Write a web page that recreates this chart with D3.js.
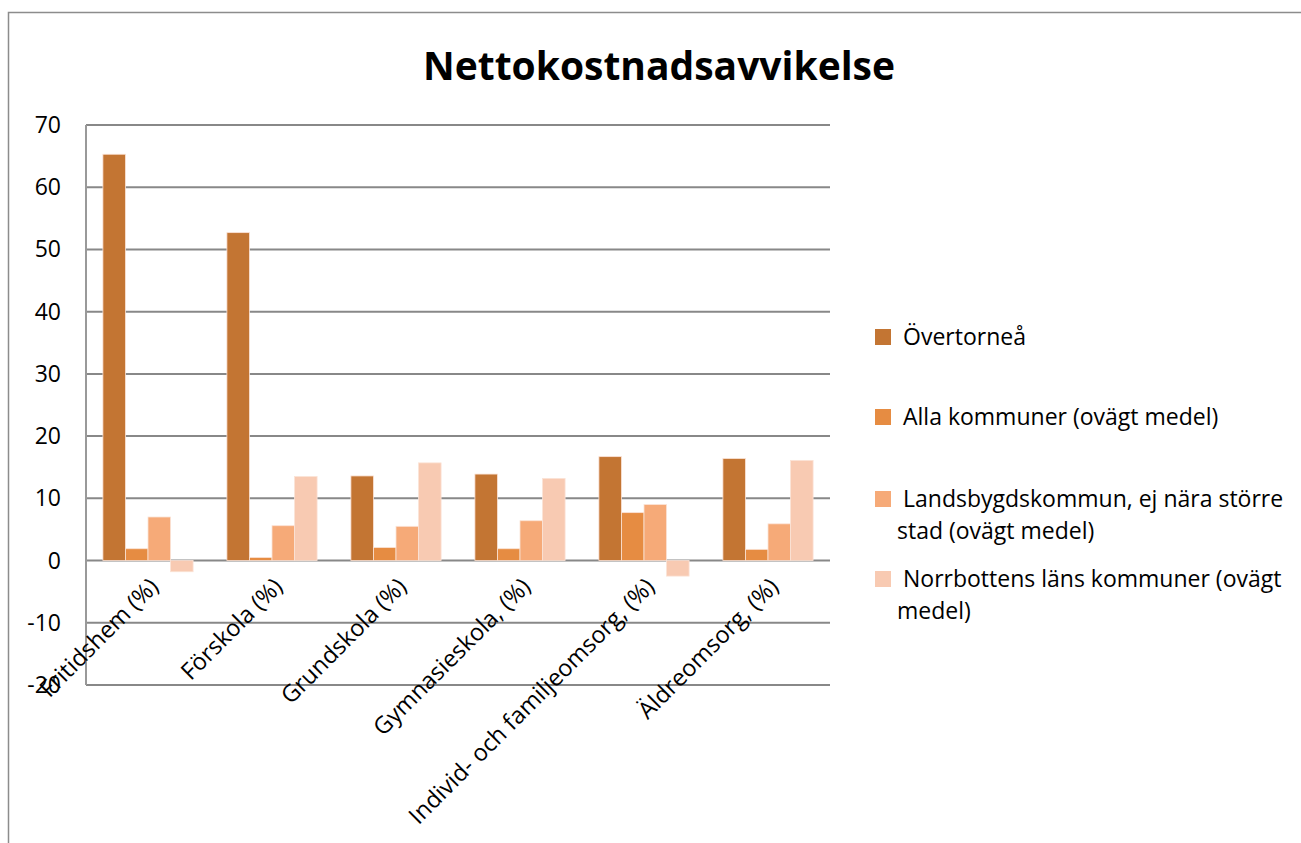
<!DOCTYPE html>
<html>
<head>
<meta charset="utf-8">
<script src="https://cdn.jsdelivr.net/npm/d3@7"></script>
<style>
  body { margin: 0; background: #fff; }
  text { font-family: "Open Sans", "DejaVu Sans", sans-serif; fill: #000; }
</style>
</head>
<body>
<svg id="chart" width="1301" height="843"></svg>
<script>
var categories = ["Fritidshem (%)", "Förskola (%)", "Grundskola (%)", "Gymnasieskola, (%)",
    "Individ- och familjeomsorg, (%)", "Äldreomsorg, (%)"];
var seriesNames = ["Övertorneå", "Alla kommuner (ovägt medel)",
    "Landsbygdskommun, ej nära större stad (ovägt medel)", "Norrbottens läns kommuner (ovägt medel)"];
var overtornea = [65.3, 52.7, 13.6, 13.9, 16.7, 16.4];
var allaKommuner = [1.9, 0.5, 2.1, 1.9, 7.7, 1.8];
var landsbygd = [7.0, 5.6, 5.5, 6.4, 9.0, 5.9];
var norrbotten = [-1.8, 13.5, 15.7, 13.2, -2.5, 16.1];
var yTicks = [-20, -10, 0, 10, 20, 30, 40, 50, 60, 70];
var colors = ["#C37533", "#E68C42", "#F6AA78", "#F8CAB2"];
var legendLines = [["Övertorneå"], ["Alla kommuner (ovägt medel)"],
    ["Landsbygdskommun, ej nära större", "stad (ovägt medel)"],
    ["Norrbottens läns kommuner (ovägt", "medel)"]];

var svg = d3.select("#chart");
var series = [overtornea, allaKommuner, landsbygd, norrbotten];

// outer chart frame
svg.append("rect")
    .attr("x", 8.5).attr("y", 12.5)
    .attr("width", 1300).attr("height", 900)
    .attr("fill", "none").attr("stroke", "#8c8c8c").attr("stroke-width", 1.5);

var plotLeft = 86, plotRight = 830, plotTop = 125, plotBottom = 685;

var y = d3.scaleLinear().domain([-20, 70]).range([plotBottom, plotTop]);
var x0 = d3.scaleBand().domain(categories).range([plotLeft, plotRight]).paddingInner(0).paddingOuter(0);
var bw = x0.bandwidth() / 5.5;
var x1 = d3.scaleBand().domain(d3.range(4)).range([0.75 * bw, 4.75 * bw]);

svg.append("text")
    .attr("x", 659).attr("y", 80)
    .attr("text-anchor", "middle")
    .attr("font-size", 39).attr("font-weight", "bold")
    .text("Nettokostnadsavvikelse");

// gridlines
svg.append("g").selectAll("line")
    .data(yTicks)
    .enter().append("line")
    .attr("x1", plotLeft).attr("x2", plotRight)
    .attr("y1", function (d) { return y(d); })
    .attr("y2", function (d) { return y(d); })
    .attr("stroke", "#888").attr("stroke-width", 2);

svg.append("line")
    .attr("x1", plotLeft).attr("x2", plotLeft)
    .attr("y1", plotTop).attr("y2", plotBottom)
    .attr("stroke", "#999").attr("stroke-width", 2);

svg.append("g").selectAll("text")
    .data(yTicks)
    .enter().append("text")
    .attr("x", 61)
    .attr("y", function (d) { return y(d); })
    .attr("dy", "0.35em")
    .attr("text-anchor", "end")
    .attr("font-size", 23)
    .text(function (d) { return d; });

// bars
var groups = svg.append("g").selectAll("g")
    .data(categories)
    .enter().append("g")
    .attr("transform", function (d) { return "translate(" + x0(d) + ",0)"; });

groups.selectAll("rect")
    .data(function (d, i) {
        return series.map(function (s, k) { return { k: k, v: s[i] }; });
    })
    .enter().append("rect")
    .attr("x", function (d) { return x1(d.k); })
    .attr("width", x1.bandwidth())
    .attr("y", function (d) { return y(Math.max(0, d.v)); })
    .attr("height", function (d) { return Math.abs(y(d.v) - y(0)); })
    .attr("fill", function (d) { return colors[d.k]; })
    .attr("stroke", "#fbe3d6").attr("stroke-width", 0.8);

// category labels
svg.append("g").selectAll("text")
    .data(categories)
    .enter().append("text")
    .attr("text-anchor", "end")
    .attr("font-size", 23.5)
    .attr("transform", function (d) {
        var cx = x0(d) + x0.bandwidth() / 2 + 12;
        return "translate(" + cx + ",588) rotate(-45)";
    })
    .text(function (d) { return d; });

// legend
var legendY = [337, 417, 499, 579];
var legend = svg.append("g").selectAll("g")
    .data(seriesNames)
    .enter().append("g")
    .attr("transform", function (d, i) { return "translate(875," + legendY[i] + ")"; });

legend.append("rect")
    .attr("x", 0).attr("y", -8)
    .attr("width", 16).attr("height", 16)
    .attr("fill", function (d, i) { return colors[i]; });

legend.each(function (d, i) {
    var g = d3.select(this);
    legendLines[i].forEach(function (line, j) {
        g.append("text")
            .attr("x", j === 0 ? 28 : 22)
            .attr("y", j * 32)
            .attr("dy", "0.35em")
            .attr("font-size", 23)
            .text(line);
    });
});
</script>
</body>
</html>
